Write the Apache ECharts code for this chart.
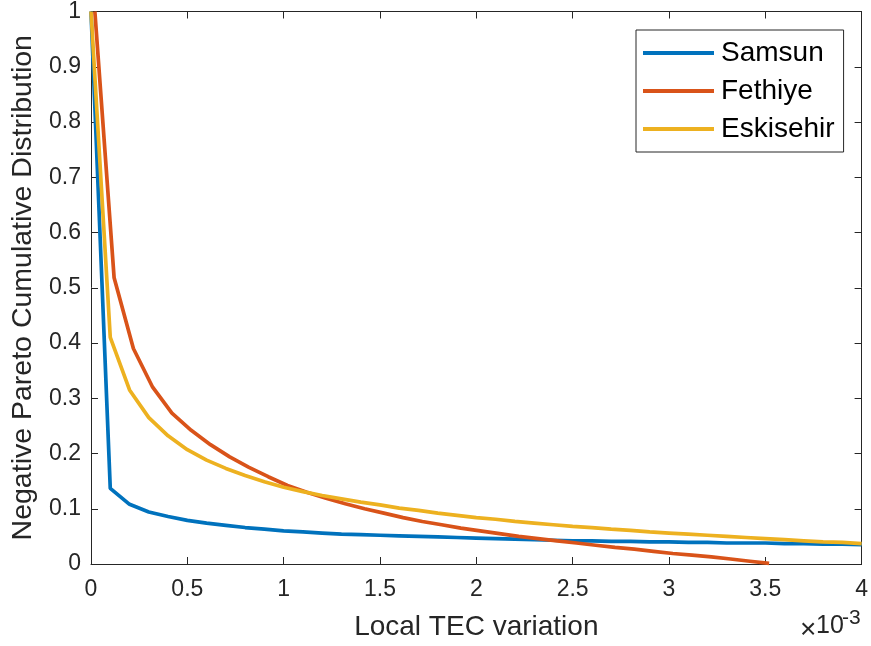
<!DOCTYPE html>
<html>
<head>
<meta charset="utf-8">
<script src="https://cdn.jsdelivr.net/npm/echarts@6/dist/echarts.min.js"></script>
<style>html,body{margin:0;padding:0;background:#fff;}#c{width:871px;height:646px;}</style>
</head>
<body>
<div id="c"></div>
<script>
// x values in units of 10^-3
const xSamsun = [0,0.1,0.2,0.3,0.4,0.5,0.6,0.7,0.8,0.9,1.0,1.1,1.2,1.3,1.4,1.5,1.6,1.7,1.8,1.9,2.0,2.1,2.2,2.3,2.4,2.5,2.6,2.7,2.8,2.9,3.0,3.1,3.2,3.3,3.4,3.5,3.6,3.7,3.8,3.9,4.0];
const ySamsun = [1,0.137,0.108,0.094,0.086,0.079,0.074,0.070,0.066,0.063,0.060,0.058,0.056,0.054,0.053,0.052,0.051,0.050,0.049,0.048,0.047,0.046,0.045,0.044,0.043,0.042,0.042,0.041,0.041,0.040,0.040,0.039,0.039,0.038,0.038,0.038,0.037,0.037,0.036,0.036,0.035];
const xFethiye = [0.02,0.12,0.22,0.32,0.42,0.52,0.62,0.72,0.82,0.92,1.02,1.12,1.22,1.32,1.42,1.52,1.62,1.72,1.82,1.92,2.02,2.12,2.22,2.32,2.42,2.52,2.62,2.72,2.82,2.92,3.02,3.12,3.22,3.32,3.42,3.52];
const yFethiye = [1,0.518,0.39,0.32,0.273,0.242,0.216,0.194,0.175,0.158,0.142,0.130,0.119,0.109,0.100,0.092,0.084,0.077,0.071,0.065,0.060,0.055,0.050,0.046,0.042,0.038,0.034,0.030,0.027,0.023,0.019,0.016,0.013,0.009,0.005,0.001];
const xEskisehir = [0,0.1,0.2,0.3,0.4,0.5,0.6,0.7,0.8,0.9,1.0,1.1,1.2,1.3,1.4,1.5,1.6,1.7,1.8,1.9,2.0,2.1,2.2,2.3,2.4,2.5,2.6,2.7,2.8,2.9,3.0,3.1,3.2,3.3,3.4,3.5,3.6,3.7,3.8,3.9,4.0];
const yEskisehir = [1,0.41,0.315,0.265,0.232,0.207,0.188,0.173,0.160,0.149,0.139,0.131,0.124,0.118,0.112,0.107,0.101,0.097,0.092,0.088,0.084,0.081,0.077,0.074,0.071,0.068,0.066,0.063,0.061,0.058,0.056,0.054,0.052,0.050,0.048,0.046,0.044,0.042,0.040,0.039,0.037];
const seriesNames = ['Samsun','Fethiye','Eskisehir'];
const colors = ['#0072BD','#D95319','#EDB120'];
const xTickLabels = ['0','0.5','1','1.5','2','2.5','3','3.5','4'];
const yTickLabels = ['0','0.1','0.2','0.3','0.4','0.5','0.6','0.7','0.8','0.9','1'];

function pairs(xs, ys){ return xs.map((x,i)=>[x, ys[i]]); }
const dataSets = [pairs(xSamsun,ySamsun), pairs(xFethiye,yFethiye), pairs(xEskisehir,yEskisehir)];

const FONT = 'Liberation Sans, Arial, Helvetica, sans-serif';
const axisCol = '#262626';
const chart = echarts.init(document.getElementById('c'), null, {renderer:'canvas'});

function xLabel(v){ const i = Math.round(v/0.5); return xTickLabels[i] !== undefined ? xTickLabels[i] : ''; }
function yLabel(v){ const i = Math.round(v/0.1); return yTickLabels[i] !== undefined ? yTickLabels[i] : ''; }

const option = {
  animation: false,
  backgroundColor: '#fff',
  grid: { left: 91, right: 8, top: 9, bottom: 81, containLabel: false },
  xAxis: [{
    type: 'value', min: 0, max: 4, interval: 0.5,
    name: 'Local TEC variation', nameLocation: 'middle', nameGap: 49,
    nameTextStyle: { fontFamily: FONT, fontSize: 28, color: axisCol },
    axisLine: { show: true, lineStyle: { color: axisCol, width: 1 } },
    axisTick: { show: true, inside: true, length: 7, lineStyle: { color: axisCol } },
    axisLabel: { fontFamily: FONT, fontSize: 23, color: axisCol, margin: 14, formatter: xLabel },
    splitLine: { show: false }
  },{
    type: 'value', min: 0, max: 4, interval: 0.5, position: 'top',
    axisLine: { show: true, onZero: false, lineStyle: { color: axisCol, width: 1 } },
    axisTick: { show: true, inside: true, length: 7, lineStyle: { color: axisCol } },
    axisLabel: { show: false }, splitLine: { show: false }
  }],
  yAxis: [{
    type: 'value', min: 0, max: 1, interval: 0.1,
    name: 'Negative Pareto Cumulative Distribution', nameLocation: 'middle', nameGap: 51,
    nameTextStyle: { fontFamily: FONT, fontSize: 28.5, color: axisCol },
    axisLine: { show: true, lineStyle: { color: axisCol, width: 1 } },
    axisTick: { show: true, inside: true, length: 7, lineStyle: { color: axisCol } },
    axisLabel: { fontFamily: FONT, fontSize: 23, color: axisCol, margin: 10, formatter: yLabel },
    splitLine: { show: false }
  },{
    type: 'value', min: 0, max: 1, interval: 0.1, position: 'right',
    axisLine: { show: true, onZero: false, lineStyle: { color: axisCol, width: 1 } },
    axisTick: { show: true, inside: true, length: 7, lineStyle: { color: axisCol } },
    axisLabel: { show: false }, splitLine: { show: false }
  }],
  legend: {
    orient: 'vertical', left: 636, top: 30,
    icon: 'rect', itemWidth: 71, itemHeight: 4, itemGap: 10,
    textStyle: { fontFamily: FONT, fontSize: 28, color: '#000', padding: [0,0,0,2] },
    borderColor: '#262626', borderWidth: 1, borderRadius: 0,
    padding: [9, 9, 9, 7], backgroundColor: '#fff',
    data: seriesNames
  },
  graphic: [
    { type: 'text', left: 800, top: 616, style: { text: '×', font: '28px ' + FONT, fill: axisCol } },
    { type: 'text', left: 816, top: 614, style: { text: '10', font: '25px ' + FONT, fill: axisCol } },
    { type: 'text', left: 842, top: 608, style: { text: '-3', font: '21px ' + FONT, fill: axisCol } }
  ],
  series: seriesNames.map((n,i)=>({
    name: n, type: 'line', xAxisIndex: 0, yAxisIndex: 0,
    data: dataSets[i], showSymbol: false, symbol: 'none', smooth: false,
    lineStyle: { color: colors[i], width: 3.7 }, itemStyle: { color: colors[i] },
    clip: true, z: 2
  }))
};
chart.setOption(option);
</script>
</body>
</html>
